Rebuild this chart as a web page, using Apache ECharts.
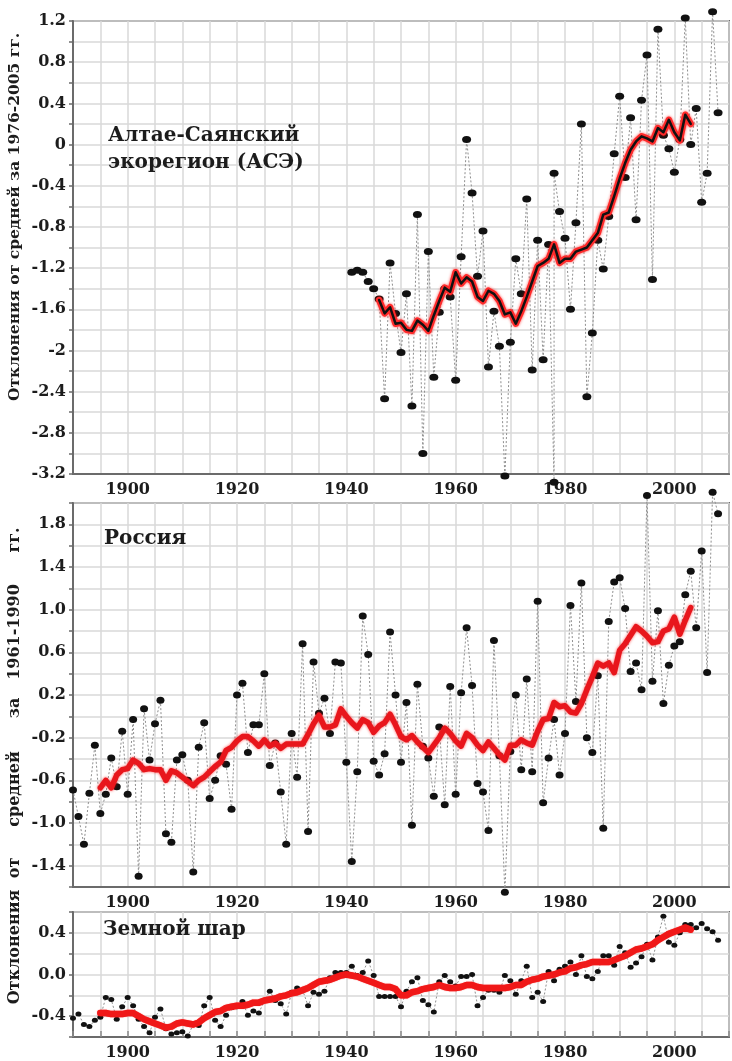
<!DOCTYPE html>
<html>
<head>
<meta charset="utf-8">
<script src="https://cdn.jsdelivr.net/npm/echarts@6/dist/echarts.min.js"></script>
<style>
  html, body { margin: 0; padding: 0; background: #fff; }
  #chart { width: 732px; height: 1061px; }
</style>
</head>
<body>
<div id="chart"></div>
<script>
// Annual temperature anomalies, °C, and their running means.

// Altai-Sayan ecoregion, deviations from the 1976-2005 mean
// (1978 carries two readings in the source series)
const altaiYears = [
  1941, 1942, 1943, 1944, 1945, 1946, 1947, 1948, 1949, 1950,
  1951, 1952, 1953, 1954, 1955, 1956, 1957, 1958, 1959, 1960,
  1961, 1962, 1963, 1964, 1965, 1966, 1967, 1968, 1969, 1970,
  1971, 1972, 1973, 1974, 1975, 1976, 1977, 1978, 1978, 1979, 1980,
  1981, 1982, 1983, 1984, 1985, 1986, 1987, 1988, 1989, 1990,
  1991, 1992, 1993, 1994, 1995, 1996, 1997, 1998, 1999, 2000,
  2001, 2002, 2003, 2004, 2005, 2006, 2007, 2008
];
const altaiAnnual = [
  -1.24, -1.22, -1.24, -1.33, -1.40, -1.50, -2.47, -1.15, -1.64, -2.02,
  -1.45, -2.54, -0.68, -3.00, -1.04, -2.26, -1.63, -1.40, -1.48, -2.29,
  -1.09, 0.05, -0.47, -1.28, -0.84, -2.16, -1.62, -1.96, -3.22, -1.92,
  -1.11, -1.45, -0.53, -2.19, -0.93, -2.09, -0.97, -3.28, -0.28, -0.65, -0.91,
  -1.60, -0.76, 0.20, -2.45, -1.83, -0.93, -1.21, -0.70, -0.09, 0.47,
  -0.32, 0.26, -0.73, 0.43, 0.87, -1.31, 1.12, 0.09, -0.04, -0.27,
  0.05, 1.23, 0.00, 0.35, -0.56, -0.28, 1.29, 0.31
];
const altaiMeanStart = 1946;
const altaiMean = [
  -1.51, -1.64, -1.58, -1.74, -1.73, -1.80, -1.81, -1.71, -1.75, -1.81,
  -1.66, -1.52, -1.39, -1.43, -1.24, -1.35, -1.29, -1.33, -1.48, -1.52,
  -1.42, -1.45, -1.52, -1.65, -1.63, -1.74, -1.62, -1.48, -1.33, -1.18,
  -1.15, -1.11, -0.97, -1.15, -1.11, -1.11, -1.04, -1.02, -1.00, -0.93,
  -0.86, -0.68, -0.66, -0.50, -0.33, -0.18, -0.05, 0.03, 0.08, 0.06,
  0.03, 0.16, 0.12, 0.24, 0.12, 0.04, 0.29, 0.20
];

// Russia, deviations from the 1961-1990 mean
const russiaStart = 1890;
const russiaAnnual = [
  -0.69, -0.94, -1.20, -0.72, -0.27, -0.91, -0.73, -0.39, -0.66, -0.14,
  -0.73, -0.03, -1.50, 0.07, -0.41, -0.07, 0.15, -1.10, -1.18, -0.41,
  -0.36, -0.60, -1.46, -0.29, -0.06, -0.77, -0.60, -0.37, -0.45, -0.87,
  0.20, 0.31, -0.34, -0.08, -0.08, 0.40, -0.46, -0.25, -0.71, -1.20,
  -0.16, -0.57, 0.68, -1.08, 0.51, 0.03, 0.17, -0.16, 0.51, 0.50,
  -0.43, -1.36, -0.52, 0.94, 0.58, -0.42, -0.55, -0.35, 0.79, 0.20,
  -0.43, 0.13, -1.02, 0.30, -0.28, -0.39, -0.75, -0.10, -0.83, 0.28,
  -0.73, 0.22, 0.83, 0.29, -0.63, -0.71, -1.07, 0.71, -0.37, -1.65,
  -0.33, 0.20, -0.50, 0.35, -0.52, 1.08, -0.81, -0.39, -0.03, -0.55,
  -0.16, 1.04, 0.14, 1.25, -0.20, -0.34, 0.38, -1.05, 0.89, 1.26,
  1.30, 1.01, 0.42, 0.50, 0.25, 2.07, 0.33, 0.99, 0.12, 0.48,
  0.66, 0.70, 1.14, 1.36, 0.83, 1.55, 0.41, 2.10, 1.90
];
const russiaMeanStart = 1895;
const russiaMean = [
  -0.67, -0.60, -0.67, -0.55, -0.50, -0.49,
  -0.41, -0.44, -0.50, -0.49, -0.50, -0.50, -0.60, -0.51, -0.53, -0.57,
  -0.61, -0.65, -0.60, -0.57, -0.52, -0.47, -0.43, -0.32, -0.29, -0.23,
  -0.19, -0.19, -0.23, -0.28, -0.22, -0.28, -0.25, -0.30, -0.26, -0.26,
  -0.26, -0.26, -0.17, -0.07, 0.01, -0.10, -0.10, -0.08, 0.07, 0.00,
  -0.06, -0.11, -0.03, -0.06, -0.15, -0.09, -0.06, 0.02, -0.08, -0.19,
  -0.22, -0.18, -0.24, -0.29, -0.34, -0.27, -0.20, -0.11, -0.16, -0.23,
  -0.28, -0.16, -0.20, -0.27, -0.32, -0.24, -0.30, -0.36, -0.41, -0.27,
  -0.27, -0.22, -0.25, -0.27, -0.14, -0.03, -0.02, 0.13, 0.09, 0.10,
  0.04, 0.03, 0.12, 0.25, 0.37, 0.50, 0.47, 0.50, 0.41, 0.62,
  0.68, 0.76, 0.84, 0.80, 0.75, 0.69, 0.70, 0.80, 0.82, 0.93,
  0.77, 0.90, 1.02
];

// Global mean
const globeStart = 1890;
const globeAnnual = [
  -0.42, -0.38, -0.48, -0.50, -0.44, -0.41, -0.22, -0.24, -0.43, -0.31,
  -0.22, -0.30, -0.43, -0.50, -0.56, -0.41, -0.33, -0.52, -0.57, -0.56,
  -0.55, -0.59, -0.48, -0.49, -0.30, -0.22, -0.44, -0.50, -0.39, -0.32,
  -0.31, -0.26, -0.39, -0.35, -0.37, -0.25, -0.16, -0.25, -0.28, -0.38,
  -0.17, -0.13, -0.15, -0.30, -0.17, -0.19, -0.16, -0.03, 0.02, 0.02,
  0.02, 0.08, -0.01, 0.02, 0.13, -0.01, -0.21, -0.21, -0.21, -0.21,
  -0.31, -0.16, -0.07, -0.03, -0.25, -0.29, -0.36, -0.07, -0.01, -0.07,
  -0.11, -0.02, -0.02, 0.00, -0.30, -0.22, -0.15, -0.15, -0.17, -0.01,
  -0.06, -0.19, -0.06, 0.08, -0.22, -0.17, -0.26, 0.03, -0.06, 0.05,
  0.08, 0.12, 0.00, 0.18, -0.02, -0.04, 0.03, 0.18, 0.18, 0.09,
  0.27, 0.21, 0.07, 0.11, 0.17, 0.29, 0.14, 0.36, 0.56, 0.31,
  0.28, 0.40, 0.48, 0.48, 0.45, 0.49, 0.44, 0.41, 0.33
];
const globeMeanStart = 1895;
const globeMean = [
  -0.37, -0.37, -0.38, -0.38, -0.38, -0.37,
  -0.37, -0.40, -0.43, -0.45, -0.47, -0.49, -0.51, -0.50, -0.47, -0.46,
  -0.47, -0.48, -0.46, -0.42, -0.39, -0.36, -0.35, -0.32, -0.31, -0.30,
  -0.30, -0.29, -0.27, -0.27, -0.25, -0.24, -0.23, -0.21, -0.20, -0.18,
  -0.17, -0.15, -0.13, -0.10, -0.07, -0.06, -0.05, -0.03, -0.01, 0.00,
  -0.01, -0.02, -0.04, -0.06, -0.08, -0.10, -0.12, -0.12, -0.14, -0.20,
  -0.20, -0.17, -0.16, -0.14, -0.13, -0.12, -0.10, -0.12, -0.13, -0.13,
  -0.12, -0.10, -0.10, -0.12, -0.13, -0.13, -0.13, -0.13, -0.13, -0.12,
  -0.10, -0.10, -0.07, -0.05, -0.04, -0.02, -0.01, 0.00, 0.02, 0.03,
  0.06, 0.07, 0.09, 0.10, 0.12, 0.12, 0.12, 0.12, 0.14, 0.16,
  0.18, 0.21, 0.24, 0.25, 0.27, 0.29, 0.33, 0.36, 0.39, 0.41,
  0.43, 0.45, 0.43
];

// Axis ranges and tick labels
const yearMin = 1890, yearMax = 2010;
const yearLabels = [1900, 1920, 1940, 1960, 1980, 2000];
const altaiLabels = ['1.2', '0.8', '0.4', '0', '-0.4', '-0.8', '-1.2', '-1.6', '-2', '-2.4', '-2.8', '-3.2'];
const russiaLabels = ['1.8', '1.4', '1.0', '0.6', '0.2', '-0.2', '-0.6', '-1.0', '-1.4'];
const globeLabels = ['0.4', '0.0', '-0.4'];

const panelTitles = ['Алтае-Саянский\nэкорегион (АСЭ)', 'Россия', 'Земной шар'];
const altaiAxisName = 'Отклонения от средней за 1976-2005 гг.';
const russiaAxisWords = ['Отклонения', 'от', 'средней', 'за', '1961-1990', 'гг.'];

function pairs(start, values) {
  return values.map((v, i) => [start + i, v]);
}
function zipPairs(years, values) {
  return values.map((v, i) => [years[i], v]);
}

const SERIF = 'DejaVu Serif';
const AXIS_COLOR = '#6b6b6b';
const GRID_COLOR = '#d8d8d8';

function labelFor(list) {
  return v => {
    const r = Math.round(v * 10) / 10;
    const hit = list.find(s => Math.abs(parseFloat(s) - r) < 1e-6);
    return hit === undefined ? '' : hit;
  };
}

function xAxis(idx, ticks) {
  return {
    type: 'value', gridIndex: idx, min: yearMin, max: yearMax, interval: 5,
    axisLine: { show: true, onZero: false, lineStyle: { color: AXIS_COLOR, width: 2 } },
    axisTick: ticks ? { show: true, inside: true, length: 6, lineStyle: { color: '#8a8a8a', width: 1.5 } } : { show: false },
    axisLabel: {
      formatter: v => (yearLabels.indexOf(Math.round(v)) >= 0 ? String(Math.round(v)) : ''),
      fontFamily: SERIF, fontWeight: 'bold', fontSize: 16, color: '#1c1c1c', margin: 8
    },
    splitLine: { show: true, lineStyle: { color: GRID_COLOR, width: 1.5 } }
  };
}

function yAxis(idx, min, max, labels) {
  return {
    type: 'value', gridIndex: idx, min: min, max: max, interval: 0.2,
    axisLine: { show: true, onZero: false, lineStyle: { color: AXIS_COLOR, width: 2 } },
    axisTick: { show: true, length: 4, lineStyle: { color: AXIS_COLOR, width: 1.5 } },
    axisLabel: {
      formatter: labelFor(labels),
      fontFamily: SERIF, fontWeight: 'bold', fontSize: 16, color: '#1c1c1c', margin: 7
    },
    splitLine: { show: true, lineStyle: { color: GRID_COLOR, width: 1.5 } }
  };
}

function annualSeries(idx, data, size) {
  return {
    type: 'line', xAxisIndex: idx, yAxisIndex: idx, data: data,
    symbol: 'circle', symbolSize: size, showSymbol: true, clip: false,
    itemStyle: { color: '#111' },
    lineStyle: { color: '#8f8f8f', width: 1, type: [2, 2] },
    z: 3, silent: true
  };
}

function meanSeries(idx, start, values, color, width, z, blur) {
  return {
    type: 'line', xAxisIndex: idx, yAxisIndex: idx, data: pairs(start, values),
    symbol: 'none', clip: false,
    lineStyle: { color: color, width: width, join: 'round', cap: 'round',
      shadowBlur: blur || 0, shadowColor: blur ? 'rgba(255,0,0,0.7)' : 'transparent' },
    z: z, silent: true
  };
}

const grids = [
  { left: 73, top: 21, width: 660, height: 453 },
  { left: 73, top: 503, width: 660, height: 384 },
  { left: 73, top: 912, width: 660, height: 126 }
].map(g => Object.assign(g, { show: true, borderColor: AXIS_COLOR, borderWidth: 2, backgroundColor: '#fff' }));

const titleStyle = { fontFamily: SERIF, fontWeight: 'bold', fontSize: 20, fill: '#1c1c1c', lineHeight: 27 };

const graphics = [
  { type: 'text', left: 108, top: 122, style: Object.assign({ text: panelTitles[0] }, titleStyle), z: 20 },
  { type: 'text', left: 104, top: 525, style: Object.assign({ text: panelTitles[1] }, titleStyle), z: 20 },
  { type: 'text', left: 103, top: 916, style: Object.assign({ text: panelTitles[2] }, titleStyle), z: 20 },
  { type: 'text', x: 15, y: 217, rotation: Math.PI / 2,
    style: { text: altaiAxisName, fontFamily: SERIF, fontWeight: 'bold', fontSize: 15.5, fill: '#1c1c1c',
      textAlign: 'center', textVerticalAlign: 'middle' }, z: 20 }
];
// Justified axis name of the Russia panel, one word at a time
const russiaWordY = [947, 868, 789, 708, 632, 540];
russiaAxisWords.forEach((w, i) => {
  graphics.push({ type: 'text', x: 15, y: russiaWordY[i], rotation: Math.PI / 2,
    style: { text: w, fontFamily: SERIF, fontWeight: 'bold', fontSize: 16, fill: '#1c1c1c',
      textAlign: 'center', textVerticalAlign: 'middle' }, z: 20 });
});

const chart = echarts.init(document.getElementById('chart'), null, { renderer: 'canvas' });
chart.setOption({
  animation: false,
  backgroundColor: '#fff',
  grid: grids,
  xAxis: [xAxis(0, false), xAxis(1, false), xAxis(2, true)],
  yAxis: [yAxis(0, -3.2, 1.2, altaiLabels), yAxis(1, -1.6, 2.0, russiaLabels), yAxis(2, -0.6, 0.6, globeLabels)],
  series: [
    annualSeries(0, zipPairs(altaiYears, altaiAnnual), [9, 7]),
    meanSeries(0, altaiMeanStart, altaiMean, '#ff2a2a', 6.5, 4, 3),
    meanSeries(0, altaiMeanStart, altaiMean, '#111111', 2.5, 5),
    annualSeries(1, pairs(russiaStart, russiaAnnual), [8, 7]),
    meanSeries(1, russiaMeanStart, russiaMean, '#e8161c', 5.5, 4, 3),
    annualSeries(2, pairs(globeStart, globeAnnual), [6, 5]),
    meanSeries(2, globeMeanStart, globeMean, '#f01818', 6.5, 4, 1)
  ],
  graphic: graphics
});
</script>
</body>
</html>
